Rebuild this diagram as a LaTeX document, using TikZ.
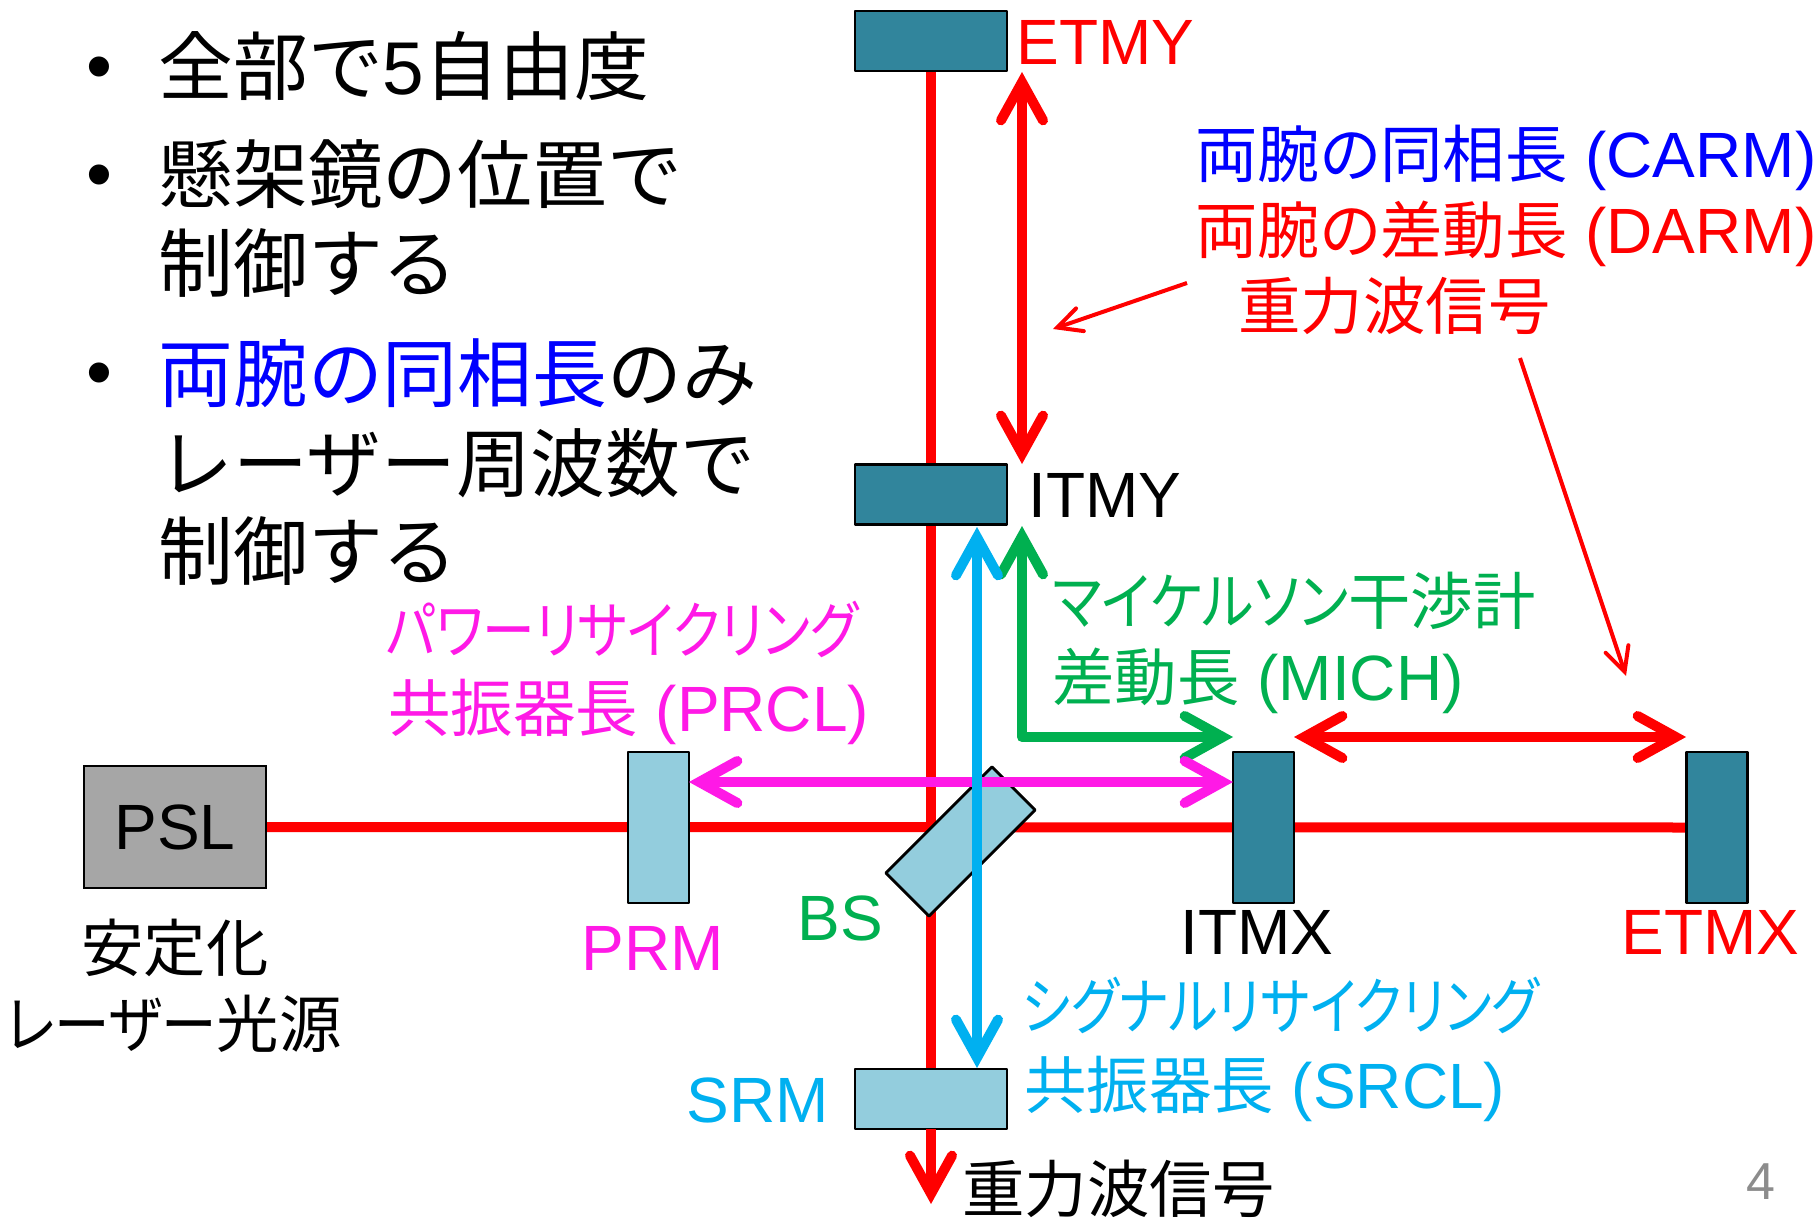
\documentclass[tikz,border=0pt]{standalone}
\usepackage{fontspec}
\usepackage{graphicx}
\usetikzlibrary{arrows.meta,backgrounds}
\setmainfont{Liberation Sans}
\newfontfamily\cjkb{Noto Sans CJK JP}
\newfontfamily\cjkp[Scale=0.975,RawFeature=+palt]{Noto Sans CJK JP}
\newcommand{\narrowx}[2]{\scalebox{#1}[1]{#2}}
\definecolor{cred}{HTML}{FF0000}
\definecolor{cblue}{HTML}{0000FF}
\definecolor{cgreen}{HTML}{00B050}
\definecolor{cmag}{HTML}{FF19E6}
\definecolor{ccyan}{HTML}{00B0F0}
\definecolor{mdark}{HTML}{31859C}
\definecolor{mlight}{HTML}{93CDDD}
\tikzset{
  x=0.5pt,y=-0.5pt,
  mirror/.style={draw=black,line width=1.4pt,rectangle,inner sep=0pt,outer sep=0pt,line join=round},
  hmirror/.style={mirror,minimum width=76pt,minimum height=30pt},
  vmirror/.style={mirror,minimum width=30.5pt,minimum height=75.5pt},
  dark/.style={fill=mdark},
  light/.style={fill=mlight},
  big/.style={anchor=base west,inner sep=0pt,font=\fontsize{37.4}{37.4}\selectfont\cjkb},
  lab/.style={anchor=base west,inner sep=0pt,font=\fontsize{32}{32}\selectfont},
  labc/.style={anchor=base,inner sep=0pt,font=\fontsize{32}{32}\selectfont},
  bul/.style={anchor=center,inner sep=0pt,font=\fontsize{37}{37}\selectfont},
  beam/.style={line width=5pt},
  barb/.style={line width=5pt,line cap=round,
    {Straight Barb[length=19pt,width=21pt,line cap=round,line join=miter]}-{Straight Barb[length=19pt,width=21pt,line cap=round,line join=miter]}},
  barbend/.style={line width=5pt,-{Straight Barb[length=19pt,width=21pt,line cap=round,line join=miter]}},
  thinar/.style={line width=2pt,-{Straight Barb[length=12pt,width=12pt,line cap=round,line join=miter]}},
}
\begin{document}
\begin{tikzpicture}
\begin{scope}[on background layer]
\path[use as bounding box,fill=white] (0,0) rectangle (1820,1219);
\end{scope}
% optics
\node[hmirror,dark] (etmy) at (931,41) {};
\node[hmirror,dark] (itmy) at (931,494.5) {};
\node[hmirror,light] (srm) at (931,1099) {};
\node[vmirror,light] (prm) at (658.5,827.5) {};
\node[vmirror,dark] (itmx) at (1263.5,827.5) {};
\node[vmirror,dark] (etmx) at (1717,827.5) {};
\node[mirror,light,minimum width=75pt,minimum height=30.5pt,rotate=45] (bs) at (960.5,841.5) {};
\node[draw=black,line width=1.2pt,fill=black!35,minimum width=91pt,minimum height=61pt,inner sep=0pt,outer sep=0pt,font=\fontsize{32}{32}\selectfont] (psl) at (175,827) {PSL};
% free ends
\coordinate (sigend) at (931,1204);
\coordinate (etmyar) at (1022,72);
\coordinate (itmyar) at (1022,464);
\coordinate (michtop) at (1022,526);
\coordinate (michcorner) at (1022,737);
\coordinate (michend) at (1233,737);
\coordinate (prclL) at (689,782);
\coordinate (prclR) at (1233,782);
\coordinate (srclT) at (977,527);
\coordinate (srclB) at (977,1068);
\coordinate (darmL) at (1294,737);
\coordinate (darmR) at (1686,737);
\coordinate (noteA0) at (1187,283);
\coordinate (noteA1) at (1053,329);
\coordinate (noteB0) at (1520,358);
\coordinate (noteB1) at (1626,676);
% main beams below the optics
\begin{scope}[on background layer]
\draw[beam,cred] (psl.east) -- (etmx.west);
\draw[beam,cred] (etmy.south) -- (srm.north);
\end{scope}
\draw[barbend,cred] (srm.south) -- (sigend);
% length arrows
\draw[barb,cred] (etmyar) -- (itmyar);
\draw[barb,cred] (darmL) -- (darmR);
\draw[barb,cgreen,line join=round] (michtop) -- (michcorner) -- (michend);
\draw[barb,cmag] (prclL) -- (prclR);
\draw[barb,ccyan] (srclT) -- (srclB);
\draw[thinar,cred] (noteA0) -- (noteA1);
\draw[thinar,cred] (noteB0) -- (noteB1);
% bullet text
\node[bul] (b1) at (99,74) {•};
\node[bul] (b2) at (99,182) {•};
\node[bul] (b3) at (99,380) {•};
\node[big] (t1) at (158,95) {全部で{\fontspec{Liberation Sans}5}自由度};
\node[big] (t2) at (158,203) {懸架鏡の位置で};
\node[big] (t3) at (158,292) {制御する};
\node[big] (t4) at (158,402) {\textcolor{cblue}{両腕の同相長}のみ};
\node[big] (t5) at (158,491) {レーザー周波数で};
\node[big] (t6) at (158,579) {制御する};
% labels
\node[lab,text=cred] (letmy) at (1016,65) {ETMY};
\node[lab] (litmy) at (1028,517) {ITMY};
\node[lab,text=cblue] (lcarm) at (1195,178) {{\cjkp 両腕の同相長} (CARM)};
\node[lab,text=cred] (ldarm) at (1195,254) {{\cjkp 両腕の差動長} (DARM)};
\node[lab,text=cred] (lgw) at (1238,330) {{\cjkp 重力波信号}};
\node[lab,text=cgreen] (lmi) at (1052,624) {{\cjkp \narrowx{0.885}{マイケルソン}干渉計}};
\node[lab,text=cgreen] (lmich) at (1052,700) {{\cjkp 差動長} (MICH)};
\node[lab,text=cmag] (lpr) at (386,653) {{\cjkp \narrowx{0.845}{パワーリサイクリング}}};
\node[lab,text=cmag] (lprcl) at (388,731) {{\cjkp 共振器長} (PRCL)};
\node[labc] (lpsl1) at (175,971) {{\cjkp 安定化}};
\node[labc] (lpsl2) at (174,1047) {{\cjkp \narrowx{0.89}{レーザー}光源}};
\node[lab,text=cmag] (lprm) at (581,970) {PRM};
\node[lab,text=cgreen] (lbs) at (797,940) {BS};
\node[lab] (litmx) at (1180,954) {ITMX};
\node[lab,text=cred] (letmx) at (1621,954) {ETMX};
\node[lab,text=ccyan] (lsrm) at (686,1122) {SRM};
\node[lab,text=ccyan] (lsr) at (1022,1029) {{\cjkp \narrowx{0.84}{シグナルリサイクリング}}};
\node[lab,text=ccyan] (lsrcl) at (1024,1108) {{\cjkp 共振器長} (SRCL)};
\node[lab] (lsig) at (962,1212) {{\cjkp 重力波信号}};
\node[anchor=base,inner sep=0pt,text=black!45,font=\fontsize{26}{26}\selectfont] (pg) at (1761,1199) {4};
\end{tikzpicture}
\end{document}
